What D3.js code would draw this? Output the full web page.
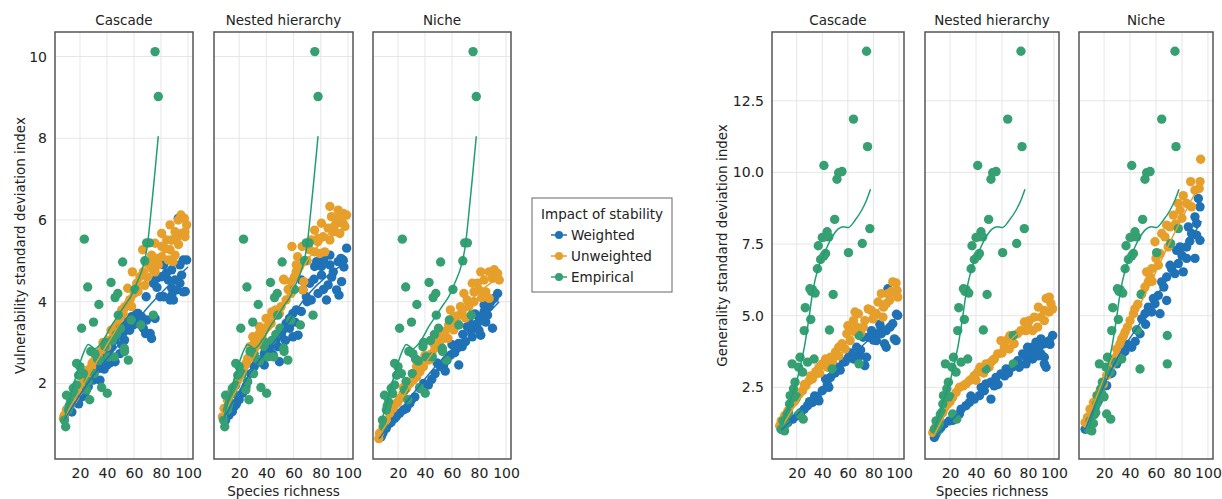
<!DOCTYPE html>
<html>
<head>
<meta charset="utf-8" />
<script src="https://d3js.org/d3.v7.min.js"></script>
<style>
  body { margin: 0; background: #ffffff; }
  text { font-family: "DejaVu Sans", sans-serif; fill: #222222; }
  .grid { stroke: #e6e6e6; stroke-width: 1; }
  .frame { fill: none; stroke: #555555; stroke-width: 1.5; }
  .tick text { font-size: 14px; fill: #222222; }
</style>
</head>
<body>
<div id="chart"></div>
<script>
// ---- data ----
var models = ["Cascade", "Nested hierarchy", "Niche"];
var seriesNames = ["Weighted", "Unweighted", "Empirical"];
var richnessTicks = [20, 40, 60, 80, 100];
var vulnTicks = [2, 4, 6, 8, 10];
var genTicks = [2.5, 5, 7.5, 10, 12.5];

// empirical food webs (same in every model panel)
var empiricalVuln = [[23.2,5.53],[51.6,4.97],[25.7,4.36],[43,4.47],[46,4.1],[48,4.2],[34,3.93],[60.7,4.3],[69.4,5.44],[71.4,5.44],[68,5.0],[21.2,3.35],[30,3.5],[74.3,3.67],[65,3.43],[48.4,3.67],[28,2.78],[31,2.73],[38.5,2.9],[41,2.65],[45.4,2.65],[53,2.78],[55.8,2.57],[52.8,2.86],[17.5,2.49],[20,2.41],[22.5,2.24],[30.6,2.24],[36,1.9],[40.2,1.76],[27.2,1.6],[17.5,1.96],[15,1.88],[10,1.71],[9.4,0.94],[11.4,1.35],[24.9,1.84],[75.6,10.12],[78,9.02],[35,2.55],[44,3.05],[13,1.55],[19,2.2],[33,2.6],[26,2.05],[58,3.55],[47,3.2],[12,1.45],[16,1.75],[39,3.0],[50,3.35],[8.5,1.1]];
var empiricalGen = [[74.6,14.23],[64.4,11.86],[75.4,10.9],[41.3,10.24],[52.8,9.99],[55.4,10.03],[51.5,9.76],[49.7,8.36],[77.2,8.04],[43.8,7.93],[42.1,7.75],[45.1,7.75],[40,7.73],[71.3,7.52],[60.5,7.2],[36.9,7.44],[42.6,7.17],[41.3,7.09],[38.7,6.96],[36.2,6.64],[30.3,5.94],[32.3,5.91],[34.4,5.79],[48.5,5.74],[26.7,5.28],[31,4.87],[25.9,4.48],[45.6,4.5],[22.6,3.55],[16.4,3.32],[21.5,3.2],[28.5,3.38],[33.6,3.49],[24.6,3.03],[18.7,2.68],[14.9,2.21],[20,2.17],[16.9,2.15],[14.4,1.92],[13.6,1.62],[22,1.57],[25.1,1.39],[9.2,1.33],[11.8,1.24],[7.9,1.04],[10.5,0.98],[68.7,4.31],[68.7,3.32],[47.7,3.14],[12.5,1.55],[17.5,2.45],[31.5,5.85]];

var vulnCascadeW = [[92.8,6.04],[96.5,5.02],[99,5.02],[94,4.9],[87.9,4.78],[90.4,4.53],[95.3,4.65],[82,4.9],[76.8,4.57],[80.5,4.61],[85.4,4.53],[87.9,4.33],[91.6,4.29],[96.5,4.24],[86.7,4.04],[89.2,4.04],[82,4.12],[79.3,4.12],[74.3,4.45],[69,4.12],[69.4,3.55],[72,3.22],[73,3.1],[75.6,3.59],[62,3.71],[63,3.71],[65.6,3.63],[66.9,3.35],[68.6,3.22],[58.2,3.63],[55.8,3.55],[53.3,3.43],[52,3.27],[48.3,3.18],[45.9,3.06],[43.4,2.9],[41,2.78],[38.5,2.65],[33.5,2.41],[31,2.33],[29.8,2.08],[26.1,1.92],[23.6,1.76],[21.2,1.67],[17.5,1.59],[16.2,1.55],[12.5,1.43],[10,1.35],[8.5,1.2],[34.8,2.37],[46,2.53],[49.6,2.73],[53,3.06],[56.8,3.3],[59.3,3.43],[34.8,2.08],[38,2.35],[42,2.5],[28,2.15],[19,1.5],[14,1.3],[60,3.45],[64,3.6],[77,4.35],[84,4.7],[98,4.25],[36,2.55],[40,2.45],[51,2.95],[94,4.45],[88,4.15]];
var vulnCascadeU = [[94.8,6.12],[97.3,6.04],[99,5.88],[92.8,6.0],[86.7,5.88],[90.4,5.71],[95.3,5.67],[97.8,5.71],[80.5,5.67],[84.2,5.51],[87.9,5.51],[91.6,5.55],[97.8,5.59],[75.6,5.43],[80.5,5.35],[86.7,5.27],[90.4,5.14],[66.4,5.27],[73,5.14],[76.8,5.06],[80.5,5.1],[85.4,5.02],[88.9,4.98],[74.3,4.98],[69.4,4.94],[66.9,4.73],[73,4.82],[75.6,4.73],[58.8,4.73],[64.4,4.61],[62,4.45],[55.3,4.33],[55.8,3.96],[53.3,3.88],[58.2,3.88],[50.9,3.8],[49.6,3.59],[47.2,3.43],[45.9,3.27],[44.7,3.14],[41,3.06],[39.8,2.9],[36,2.82],[33.6,2.65],[31,2.57],[28.6,2.41],[26.2,2.33],[23.7,2.16],[22.5,2.04],[20,1.92],[18.8,1.8],[16.3,1.67],[13.8,1.59],[12.6,1.47],[10,1.35],[8.4,1.22],[7.7,1.14],[60,4.2],[70,4.6],[78,4.9],[68,4.4],[52,3.7],[43,3.3],[37,3.0],[29,2.5],[25,2.2],[15,1.6],[48,3.3],[57,4.05],[63,4.25],[83,5.3],[93,5.4]];
var vulnNestedW = [[99,5.31],[96.5,5.02],[92.8,4.98],[94.8,5.06],[86.7,5.14],[82,5.02],[77,4.98],[80.5,4.86],[86.7,4.9],[89.2,4.73],[95.3,4.49],[91.6,4.29],[93.4,4.16],[85.4,4.41],[80.5,4.65],[75.5,4.86],[71.9,4.45],[78,4.2],[73,4.04],[84.2,4.04],[66.9,4.29],[65.7,4.53],[69.4,4.12],[65.7,3.76],[62,3.8],[59.5,3.71],[57,3.59],[54.5,3.47],[57,3.35],[52.2,3.31],[51,3.18],[59.5,3.14],[63.3,3.18],[47.2,3.06],[44.7,2.98],[48.4,2.9],[49.6,2.53],[42.2,2.82],[38.5,2.73],[38.5,2.45],[36,2.57],[31,2.41],[28.6,2.24],[26.2,2.04],[25,1.92],[22.5,1.76],[16.3,1.43],[15,1.31],[12.5,1.22],[10,1.1],[20,1.6],[33,2.5],[45,2.7],[54,3.05],[61,3.5],[70,4.0],[88,4.6],[97,4.85],[82,4.3],[40,2.85],[18,1.5],[75,4.55]];
var vulnNestedU = [[86.7,6.33],[92.8,6.24],[96.5,6.16],[99,6.12],[94,6.08],[87.9,6.08],[91.6,5.92],[96.5,5.92],[97.8,5.84],[80.5,5.92],[85.4,5.8],[89.1,5.71],[94,5.67],[75.5,5.75],[81.7,5.59],[86.7,5.51],[73,5.51],[77.8,5.47],[71.7,5.27],[75.5,5.22],[79.3,5.18],[83,5.22],[66.3,5.35],[58.8,5.35],[64.4,4.86],[61.9,4.73],[60.7,4.61],[58.2,4.49],[53.3,4.53],[58.2,4.2],[54.5,4.04],[50.9,3.88],[49.6,3.71],[45.9,3.67],[43.5,3.47],[39.8,3.59],[41,3.39],[38.5,3.31],[34.8,3.22],[33.6,3.06],[31,2.98],[32.3,2.9],[28.6,2.73],[26.2,2.61],[25,2.49],[22.5,2.41],[21.2,2.29],[18.8,2.08],[16.3,1.92],[13.8,1.76],[11.4,1.59],[8.9,1.39],[7.7,1.18],[30,3.14],[35,3.39],[52.6,4.55],[67.5,4.49],[66.9,4.29],[70,5.0],[56,4.3],[47,3.8],[37,3.1],[28,2.9],[20,2.2],[63,5.1],[44,3.75],[62,4.9],[78,5.55],[90,5.85]];
var vulnNicheW = [[93.8,4.2],[91.3,4.08],[88.8,4.0],[87.5,3.88],[83.8,3.92],[83.8,3.76],[86.3,3.67],[90,3.35],[80,3.63],[78.8,3.47],[75,3.43],[71.3,3.39],[81.3,3.18],[75,3.14],[70,3.02],[65,2.98],[67.5,2.9],[63.8,2.86],[58.8,2.69],[65,2.45],[56.3,2.57],[53.8,2.45],[51.3,2.41],[47.5,2.24],[42.5,1.96],[36.3,1.88],[32.5,1.67],[28.8,1.51],[26.3,1.39],[21.3,1.27],[17.5,1.14],[13.8,1.02],[11.3,0.9],[8.8,0.78],[7.5,0.69],[72.5,3.59],[77,3.7],[62,2.75],[45,2.1],[39,2.0],[55,2.3],[68,3.2],[85,3.5],[30,1.6],[24,1.35],[19,1.2],[15,1.05],[49,2.5],[60,2.95],[74,3.3],[80,3.3]];
var vulnNicheU = [[81.3,4.73],[87.5,4.73],[91.3,4.78],[93.8,4.69],[95,4.53],[90,4.57],[83.8,4.53],[78.8,4.45],[75,4.45],[80,4.29],[85,4.24],[87.5,4.08],[76.3,4.24],[68.8,4.2],[71.3,4.04],[76.3,4.0],[66.3,3.88],[72.5,3.88],[67.5,3.76],[58.8,3.8],[61.3,3.63],[63.8,3.47],[57.5,3.43],[61.3,3.31],[55,3.27],[53.8,3.1],[48.8,3.06],[51.3,2.9],[47.5,2.86],[45,2.73],[42.5,2.57],[38.8,2.41],[36.3,2.29],[33.8,2.16],[31.3,2.08],[28.8,2.0],[26.3,1.88],[23.8,1.76],[21.3,1.63],[18.8,1.51],[16.3,1.39],[13.8,1.27],[11.3,1.1],[8.8,0.94],[6.3,0.78],[5.8,0.65],[33.8,2.41],[40,2.69],[46.3,2.98],[31.3,2.24],[70,3.6],[82,4.1],[64,3.65],[52,3.2],[44,2.6],[37,2.5],[24,1.9],[20,1.55],[10,1.05],[15,1.45],[27,1.95],[35,2.35],[57,3.1]];

var genCascadeW = [[91.3,5.94],[99,5.01],[95.1,4.72],[90,4.48],[86.2,4.37],[81,4.37],[78.5,4.48],[75.9,4.25],[82.3,4.13],[88.7,4.02],[90,3.9],[96.4,4.19],[97.7,4.13],[72,4.25],[74.6,3.55],[73.3,3.26],[66.9,3.9],[64.4,3.49],[60.5,3.55],[56.7,3.38],[52.8,3.2],[49,3.03],[46.4,2.85],[42.6,2.79],[45.1,2.5],[40,2.38],[36.2,2.15],[37.4,2.03],[32.3,1.97],[28.5,1.86],[25.9,1.74],[23.3,1.62],[20.8,1.51],[16.9,1.39],[13.1,1.27],[10.5,1.16],[7.9,1.04],[98,5.05],[93,4.6],[85,4.7],[70,3.8],[62,3.7],[58,3.4],[54,3.1],[69,3.6],[44,2.6],[34,2.2],[30,2.0],[80,4.15],[86,4.55],[67,3.6],[50,3.0]];
var genCascadeU = [[95.1,6.18],[97.7,6.14],[98.5,5.88],[99,5.65],[91.3,5.77],[86.2,5.77],[92.6,5.53],[90,5.42],[83.6,5.48],[78.5,5.18],[75.9,5.24],[82.3,5.07],[87.4,4.95],[79.7,4.89],[73.3,4.83],[68.2,5.07],[65.6,5.13],[72,4.6],[66.9,4.6],[63.1,4.48],[59.2,4.37],[61.8,4.13],[55.4,4.02],[57.9,3.84],[52.8,3.9],[50.3,3.73],[46.4,3.55],[42.6,3.49],[40,3.32],[37.4,3.2],[34.9,2.97],[32.3,2.79],[29.7,2.73],[27.2,2.56],[24.6,2.38],[22,2.27],[19.5,2.09],[15.6,1.92],[13.1,1.68],[10.5,1.51],[7.9,1.33],[6.7,1.16],[64.4,4.83],[60,4.65],[48,3.4],[44,3.2],[38,3.0],[53,3.6],[70,4.4],[81,5.0],[88,5.3],[94,5.85],[35,3.05],[31,2.9],[26,2.6],[18,2.0]];
var genNestedW = [[99,4.31],[96.4,4.13],[92.6,4.02],[90,4.19],[88.7,3.9],[86.2,4.08],[83.6,3.9],[79.7,3.9],[75.9,3.67],[78.5,3.55],[83.6,3.49],[90,3.67],[92.6,3.55],[92.6,3.32],[72,3.43],[67.9,3.2],[63.1,3.14],[59.2,2.97],[55.4,2.85],[51.5,2.68],[47.7,2.62],[51.5,2.09],[46.4,2.38],[42.6,2.21],[38.7,2.09],[34.9,1.97],[32.3,1.86],[28.5,1.74],[27.2,1.57],[24.6,1.45],[19.5,1.33],[15.6,1.22],[11.8,1.04],[9.2,0.87],[7.9,0.75],[73.3,3.2],[78.5,3.32],[93.9,3.2],[97,4.0],[85,3.7],[70,3.3],[65,3.0],[57,2.6],[62,2.9],[44,2.5],[36,2.2],[22,1.35],[13,1.1],[82,3.7],[88,3.6],[54,2.55]];
var genNestedU = [[96.4,5.65],[97.7,5.42],[99,5.24],[96.4,5.13],[92.6,5.18],[90,4.95],[92.6,4.83],[84.9,4.95],[81,4.83],[77.2,4.78],[78.5,4.48],[74.6,4.48],[83.6,4.48],[87.4,4.6],[72,4.37],[63.1,4.13],[59.2,4.13],[61.8,3.9],[56.7,3.67],[54.1,3.49],[51.5,3.38],[47.7,3.32],[45.1,3.14],[41.3,3.03],[38.7,2.91],[34.9,2.73],[32.3,2.62],[27.2,2.5],[24.6,2.32],[22,2.15],[18.2,1.92],[14.4,1.62],[11.8,1.39],[9.2,1.16],[6.7,0.92],[65.6,3.84],[69.4,4.02],[66,4.3],[88,5.3],[94,5.6],[80,4.6],[50,3.2],[43,3.2],[37,2.8],[30,2.55],[20,2.0],[16,1.8],[60,3.7],[53,3.45],[46,3.0],[40,2.75]];
var genNicheW = [[92.6,9.09],[93.9,8.8],[90,8.45],[91.3,8.22],[84.9,8.1],[87.4,7.87],[91.3,7.81],[93.9,7.63],[83.6,7.4],[78.5,7.4],[75.9,7.28],[83.6,7.0],[90,7.0],[77.2,6.82],[72,6.64],[74.6,6.47],[68.2,6.35],[81,6.53],[64.4,6.18],[68.2,5.53],[61.8,5.71],[59.2,5.42],[56.7,5.13],[63.1,5.07],[54.1,5.3],[51.5,5.07],[49,4.89],[47.7,4.37],[41.3,3.9],[33.6,3.67],[29.7,3.32],[24.6,2.97],[22,2.56],[18.2,2.27],[15.6,2.03],[13.1,1.8],[10.5,1.57],[7.9,1.33],[5.4,1.04],[70.8,6.76],[80,7.1],[66,6.0],[58,5.6],[45,4.5],[38,4.0],[86,7.6],[44,4.1],[36,3.75],[26,3.0],[52,4.7]];
var genNicheU = [[94.4,10.46],[93.9,9.68],[86.7,9.68],[93.3,9.44],[90,9.38],[81,9.19],[77.2,8.92],[83.6,8.92],[87.4,8.8],[78.5,8.68],[73.3,8.51],[68.2,8.16],[64.4,7.87],[66.9,7.75],[59.2,7.58],[69.4,7.4],[63.1,7.17],[61.8,6.76],[56.7,6.64],[52.8,6.53],[55.4,6.35],[54.1,6.18],[51.5,6.0],[49,5.77],[43.8,5.24],[42.6,5.07],[40,4.83],[36.2,4.43],[33.6,4.19],[32.3,4.02],[29.7,3.84],[27.2,3.49],[24.6,3.2],[22,2.91],[19.5,2.62],[16.9,2.38],[14.4,2.21],[11.8,1.97],[9.2,1.74],[7.2,1.45],[5.4,1.27],[70.8,8.1],[80,8.4],[75,8.2],[46,5.4],[38,4.6],[60,7.0],[35,4.3],[30,3.6],[26,3.3],[57,6.2]];

// smoothed trend lines
var vulnEmpiricalFit = [[8,1.1],[12,1.55],[16,2.05],[20,2.5],[24,2.85],[26,2.95],[28,2.92],[31,2.85],[34,2.92],[38,3.1],[43,3.4],[48,3.65],[53,3.9],[58,4.15],[62,4.45],[67,4.9],[70,5.4],[72,6.0],[75,7.0],[78,8.05]];
var genEmpiricalFit = [[8,1.04],[14.4,1.97],[20.8,2.85],[26,3.9],[29.7,4.95],[32.3,5.77],[36.2,6.58],[42.6,7.28],[47.7,7.75],[52.8,8.04],[56.7,8.1],[60.5,8.08],[65.6,8.33],[70.8,8.68],[74.6,9.03],[77.7,9.41]];
var vulnCascadeWFit = [[8,1.1],[30,2.2],[50,3.0],[70,3.85],[100,4.85]];
var vulnCascadeUFit = [[8,1.15],[30,2.4],[50,3.5],[70,4.6],[100,5.9]];
var vulnNestedWFit = [[8,1.1],[30,2.35],[50,3.2],[70,4.15],[100,5.0]];
var vulnNestedUFit = [[8,1.2],[30,2.6],[50,3.8],[70,5.0],[100,6.1]];
var vulnNicheWFit = [[6,0.65],[30,1.7],[50,2.5],[70,3.15],[95,4.0]];
var vulnNicheUFit = [[6,0.7],[30,2.0],[50,2.95],[70,3.9],[95,4.6]];
var genCascadeWFit = [[8,1.0],[30,2.0],[50,3.0],[70,3.9],[100,5.0]];
var genCascadeUFit = [[8,1.1],[30,2.6],[50,3.6],[70,4.6],[100,5.9]];
var genNestedWFit = [[8,0.75],[30,1.75],[50,2.6],[70,3.2],[100,4.2]];
var genNestedUFit = [[8,0.85],[30,2.6],[50,3.4],[70,4.3],[100,5.4]];
var genNicheWFit = [[5,1.0],[30,3.5],[50,4.9],[70,6.4],[95,8.3]];
var genNicheUFit = [[5,1.1],[30,3.9],[50,5.6],[70,7.5],[95,9.7]];

// ---- drawing ----
var W = 1222, H = 499;
var colors = { Weighted: "#1f72b5", Unweighted: "#e69f2a", Empirical: "#36a072" };
var plotTop = 32, plotBottom = 459;

var svg = d3.select("#chart").append("svg")
  .attr("width", W).attr("height", H);
svg.append("rect").attr("width", W).attr("height", H).attr("fill", "#ffffff");

var groups = [
  {
    frames: [[55, 193], [214, 353], [373, 511]],
    xDomain: [1.5, 103.7], yDomain: [0.15, 10.6],
    yTicks: vulnTicks, yFormat: d3.format("d"),
    yLabel: "Vulnerability standard deviation index", yLabelX: 20,
    points: [[vulnCascadeW, vulnCascadeU, empiricalVuln], [vulnNestedW, vulnNestedU, empiricalVuln], [vulnNicheW, vulnNicheU, empiricalVuln]],
    fits: [[vulnCascadeWFit, vulnCascadeUFit, vulnEmpiricalFit], [vulnNestedWFit, vulnNestedUFit, vulnEmpiricalFit], [vulnNicheWFit, vulnNicheUFit, vulnEmpiricalFit]]
  },
  {
    frames: [[772, 904], [925, 1059], [1079, 1213]],
    xDomain: [0.7, 103.9], yDomain: [0, 14.9],
    yTicks: genTicks, yFormat: d3.format(".1f"),
    yLabel: "Generality standard deviation index", yLabelX: 722,
    points: [[genCascadeW, genCascadeU, empiricalGen], [genNestedW, genNestedU, empiricalGen], [genNicheW, genNicheU, empiricalGen]],
    fits: [[genCascadeWFit, genCascadeUFit, genEmpiricalFit], [genNestedWFit, genNestedUFit, genEmpiricalFit], [genNicheWFit, genNicheUFit, genEmpiricalFit]]
  }
];

groups.forEach(function(grp) {
  var y = d3.scaleLinear().domain(grp.yDomain).range([plotBottom, plotTop]);

  grp.frames.forEach(function(fr, i) {
    var x = d3.scaleLinear().domain(grp.xDomain).range(fr);
    var g = svg.append("g");

    // grid
    g.selectAll("line.gx").data(richnessTicks).enter().append("line")
      .attr("class", "grid").attr("x1", x).attr("x2", x)
      .attr("y1", plotTop).attr("y2", plotBottom);
    g.selectAll("line.gy").data(grp.yTicks).enter().append("line")
      .attr("class", "grid").attr("x1", fr[0]).attr("x2", fr[1])
      .attr("y1", y).attr("y2", y);

    // points: weighted, unweighted, empirical
    grp.points[i].forEach(function(pts, s) {
      g.append("g").selectAll("circle").data(pts).enter().append("circle")
        .attr("cx", function(d) { return x(d[0]); })
        .attr("cy", function(d) { return y(d[1]); })
        .attr("r", 4.7)
        .attr("fill", colors[seriesNames[s]]);
    });

    // trend lines
    var line = d3.line().curve(d3.curveMonotoneX)
      .x(function(d) { return x(d[0]); })
      .y(function(d) { return y(d[1]); });
    grp.fits[i].forEach(function(f, s) {
      g.append("path").attr("d", line(f))
        .attr("fill", "none")
        .attr("stroke", s === 2 ? "#1f9e74" : colors[seriesNames[s]])
        .attr("stroke-width", 1.5);
    });

    // frame
    g.append("rect").attr("class", "frame")
      .attr("x", fr[0]).attr("y", plotTop)
      .attr("width", fr[1] - fr[0]).attr("height", plotBottom - plotTop);

    // x axis
    var xa = g.append("g").attr("transform", "translate(0," + plotBottom + ")")
      .call(d3.axisBottom(x).tickValues(richnessTicks).tickSize(0).tickPadding(9));
    xa.select(".domain").remove();

    // y axis only on first panel
    if (i === 0) {
      var ya = g.append("g").attr("transform", "translate(" + fr[0] + ",0)")
        .call(d3.axisLeft(y).tickValues(grp.yTicks).tickFormat(grp.yFormat).tickSize(0).tickPadding(8));
      ya.select(".domain").remove();
    }

    // title
    g.append("text").attr("x", (fr[0] + fr[1]) / 2).attr("y", 25)
      .attr("text-anchor", "middle").style("font-size", "13.5px")
      .text(models[i]);
  });

  var mid = grp.frames[1];
  svg.append("text").attr("x", (mid[0] + mid[1]) / 2).attr("y", 496)
    .attr("text-anchor", "middle").style("font-size", "13.5px")
    .text("Species richness");

  svg.append("text")
    .attr("transform", "translate(" + grp.yLabelX + "," + ((plotTop + plotBottom) / 2) + ") rotate(-90)")
    .attr("text-anchor", "middle").attr("dy", "0.35em").style("font-size", "13.5px")
    .text(grp.yLabel);
});

// legend
var lg = svg.append("g").attr("transform", "translate(532,198)");
lg.append("rect").attr("width", 140).attr("height", 94)
  .attr("fill", "#ffffff").attr("stroke", "#666666").attr("stroke-width", 1);
lg.append("text").attr("x", 70).attr("y", 21).attr("text-anchor", "middle")
  .style("font-size", "13.5px").text("Impact of stability");
seriesNames.forEach(function(name, k) {
  var yy = 37 + k * 21;
  lg.append("line").attr("x1", 19).attr("x2", 35).attr("y1", yy).attr("y2", yy)
    .attr("stroke", colors[name]).attr("stroke-width", 1.5);
  lg.append("circle").attr("cx", 27).attr("cy", yy).attr("r", 4).attr("fill", colors[name]);
  lg.append("text").attr("x", 39).attr("y", yy).attr("dy", "0.35em")
    .style("font-size", "13.5px").text(name);
});
</script>
</body>
</html>
